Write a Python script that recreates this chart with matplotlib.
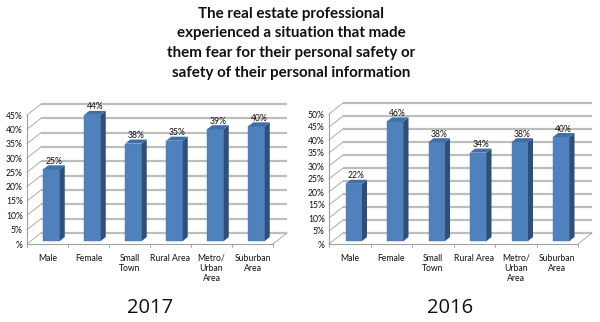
import matplotlib
matplotlib.use("Agg")
import matplotlib.pyplot as plt
from matplotlib.patches import Polygon

categories = ["Male", "Female", "Small\nTown", "Rural Area", "Metro/\nUrban\nArea", "Suburban\nArea"]
values_2017 = [25, 44, 34, 35, 39, 40]
labels_2017 = ["25%", "44%", "38%", "35%", "39%", "40%"]
values_2016 = [22, 46, 38, 34, 38, 40]
labels_2016 = ["22%", "46%", "38%", "34%", "38%", "40%"]
yticks_2017 = [0, 5, 10, 15, 20, 25, 30, 35, 40, 45]
yticks_2016 = [0, 5, 10, 15, 20, 25, 30, 35, 40, 45, 50]
title = ("The real estate professional\nexperienced a situation that made\n"
         "them fear for their personal safety or\nsafety of their personal information")

W, H = 600, 322
fig = plt.figure(figsize=(W / 100, H / 100), dpi=100)
fig.patch.set_facecolor("white")

FRONT = "#4F81BD"
SIDE = "#2F4F78"
TOP = "#3E6FA8"
GRID = "#BDBDBD"
AXC = "#A0A0A0"
FS = 6.2


def chart(px_left, px_right, px_bottom, px_top, ymax, values, labels, yticks, year, year_x):
    ax = fig.add_axes([px_left / W, 1 - px_bottom / H,
                       (px_right - px_left) / W, (px_bottom - px_top) / H])
    n = len(values)
    ax.set_xlim(-0.5, n - 0.5)
    ax.set_ylim(0, ymax)
    ppx = (px_right - px_left) / n          # pixels per category unit
    ppy = (px_bottom - px_top) / ymax        # pixels per percent
    wdx, wdy = 14 / ppx, 11 / ppy            # back wall offset
    bdx, bdy = 4 / ppx, 3 / ppy              # bar plane offset
    sdx, sdy = 5 / ppx, 4 / ppy              # bar depth
    bw = 16.5 / ppx

    for s in ["top", "right", "bottom"]:
        ax.spines[s].set_visible(False)
    ax.spines["left"].set_color(AXC)
    ax.spines["left"].set_linewidth(0.8)
    ax.patch.set_alpha(0)

    x0, x1 = -0.5, n - 0.5
    # back wall gridlines and diagonals
    for v in yticks:
        ax.plot([x0 + wdx, x1 + wdx], [v + wdy, v + wdy], color=GRID, lw=1.6,
                clip_on=False, zorder=1, solid_capstyle="butt")
        ax.plot([x0, x0 + wdx], [v, v + wdy], color=AXC, lw=0.6, clip_on=False, zorder=1)
    # floor
    ax.plot([x0, x1], [0, 0], color=AXC, lw=0.8, clip_on=False, zorder=2)
    ax.plot([x1, x1 + wdx], [0, wdy], color=AXC, lw=0.6, clip_on=False, zorder=2)
    for b in range(n + 1):
        ax.plot([x0 + b, x0 + b], [0, -2.5 / ppy], color=AXC, lw=0.6, clip_on=False)

    # bars
    xs = [i + bdx for i in range(n)]
    bars = ax.bar(xs, values, width=bw, bottom=bdy, color=FRONT, zorder=3,
                  edgecolor="#4A7AB3", linewidth=0.3)
    for rect, v, lab in zip(bars, values, labels):
        l = rect.get_x()
        r = l + rect.get_width()
        t = rect.get_y() + rect.get_height()
        b = rect.get_y()
        ax.add_patch(Polygon([[r, b], [r + sdx, b + sdy], [r + sdx, t + sdy], [r, t]],
                             closed=True, facecolor=SIDE, edgecolor="none", zorder=3, clip_on=False))
        ax.add_patch(Polygon([[l, t], [r, t], [r + sdx, t + sdy], [l + sdx, t + sdy]],
                             closed=True, facecolor=TOP, edgecolor="none", zorder=3, clip_on=False))
        ax.text((l + r + sdx) / 2, t + sdy - 0.5 / ppy, lab, ha="center", va="bottom",
                fontsize=FS, family="Lato", color="#111111", zorder=4, clip_on=False)

    ax.set_yticks(yticks)
    ax.set_yticklabels([f"{v}%" if v else "%" for v in yticks], fontsize=FS, family="Lato",
                       color="#111111")
    ax.tick_params(axis="y", length=0, pad=3)
    ax.set_xticks(range(n))
    ax.set_xticklabels(categories, fontsize=FS, family="Lato", va="top", linespacing=1.15,
                       color="#111111")
    ax.tick_params(axis="x", length=0, pad=7)
    fig.text(year_x / W, 1 - 308 / H, year, ha="center", va="center", fontsize=14.5,
             family="Open Sans", color="#111111")


chart(27, 273, 244, 115, 45, values_2017, labels_2017, yticks_2017, "2017", 150)
chart(329, 578, 244, 114, 50, values_2016, labels_2016, yticks_2016, "2016", 450)

fig.text(291 / W, 1 - 7 / H, title, ha="center", va="top", fontsize=10.9,
         family="Lato", weight="bold", linespacing=1.5, color="#111111")

fig.savefig("out.png", dpi=100, facecolor="white")
